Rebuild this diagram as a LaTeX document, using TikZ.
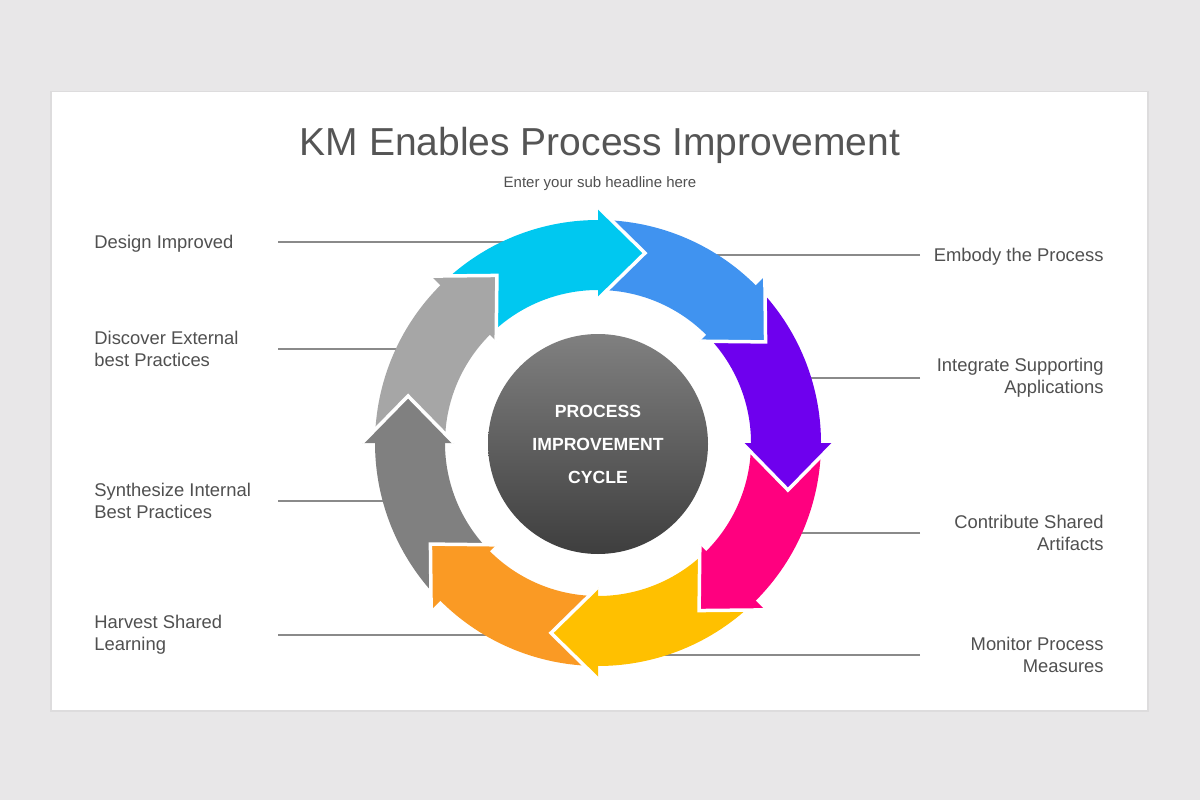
\documentclass[tikz,border=0pt]{standalone}
\usepackage{fontspec}
\setmainfont{Liberation Sans}

\definecolor{bgcol}{RGB}{232,231,232}
\definecolor{shadowcol}{RGB}{221,220,221}
\definecolor{titlegray}{RGB}{85,85,85}
\definecolor{textgray}{RGB}{80,80,80}
\definecolor{linegray}{RGB}{138,138,138}
\definecolor{cyanA}{RGB}{0,200,240}
\definecolor{blueA}{RGB}{64,147,240}
\definecolor{purpleA}{RGB}{110,0,238}
\definecolor{pinkA}{RGB}{255,0,127}
\definecolor{yellowA}{RGB}{255,192,0}
\definecolor{orangeA}{RGB}{250,154,36}
\definecolor{darkgrayA}{RGB}{128,128,128}
\definecolor{lightgrayA}{RGB}{166,166,166}
\definecolor{hubtop}{RGB}{128,128,128}
\definecolor{hubbottom}{RGB}{62,62,62}

\begin{document}
\begin{tikzpicture}[x=0.5pt,y=0.5pt]
\useasboundingbox (0,0) rectangle (1200,800);
\fill[bgcol] (0,0) rectangle (1200,800);
\fill[shadowcol] (50,88) rectangle (1149,709);
\fill[white] (52,90) rectangle (1147,708);

% headings
\node[anchor=base, text=titlegray, font=\fontsize{19.5}{22}\selectfont] (title) at (600,645) {KM Enables Process Improvement};
\node[anchor=base, text=textgray, font=\fontsize{7.5}{9}\selectfont] (subtitle) at (600,613) {Enter your sub headline here};

% labels
\begin{scope}[every node/.style={text=textgray, inner sep=0pt, font=\fontsize{9.2}{11}\selectfont}]
    \node[anchor=west, align=left] (design) at (94,556) {Design Improved};
    \node[anchor=west, align=left] (discover) at (94,451) {Discover External\\best Practices};
    \node[anchor=west, align=left] (synthesize) at (94,299) {Synthesize Internal\\Best Practices};
    \node[anchor=west, align=left] (harvest) at (94,165) {Harvest Shared\\Learning};

    \node[anchor=east, align=right] (embody) at (1104,543) {Embody the Process};
    \node[anchor=east, align=right] (integrate) at (1104,422) {Integrate Supporting\\Applications};
    \node[anchor=east, align=right] (contribute) at (1104,267) {Contribute Shared\\Artifacts};
    \node[anchor=east, align=right] (monitor) at (1104,145) {Monitor Process\\Measures};
\end{scope}

\coordinate (design_a) at (278,558);
\coordinate (design_b) at (515,558);
\coordinate (discover_a) at (278,451);
\coordinate (discover_b) at (410,451);
\coordinate (synthesize_a) at (278,299);
\coordinate (synthesize_b) at (400,299);
\coordinate (harvest_a) at (278,165);
\coordinate (harvest_b) at (500,165);
\coordinate (embody_a) at (920,545);
\coordinate (embody_b) at (700,545);
\coordinate (integrate_a) at (920,422);
\coordinate (integrate_b) at (790,422);
\coordinate (contribute_a) at (920,267);
\coordinate (contribute_b) at (790,267);
\coordinate (monitor_a) at (920,145);
\coordinate (monitor_b) at (650,145);

\begin{scope}[every edge/.style={draw=linegray, line width=0.75pt}]
    \path (design_a) edge (design_b);
    \path (discover_a) edge (discover_b);
    \path (synthesize_a) edge (synthesize_b);
    \path (harvest_a) edge (harvest_b);
    \path (embody_a) edge (embody_b);
    \path (integrate_a) edge (integrate_b);
    \path (contribute_a) edge (contribute_b);
    \path (monitor_a) edge (monitor_b);
\end{scope}

% ring of arrows, centre of the ring at (598,357)
\begin{scope}[shift={(598,357)}, headedge/.style={draw=white, line width=1.75pt, line join=miter}]
    % bodies
    \fill[cyanA] (133:223) arc[start angle=133, end angle=89, radius=223] -- (89:153) arc[start angle=89, end angle=133, radius=153] -- cycle;
    \fill[blueA] (88:223) arc[start angle=88, end angle=44, radius=223] -- (44:153) arc[start angle=44, end angle=88, radius=153] -- cycle;
    \fill[purpleA] (43:223) arc[start angle=43, end angle=-1, radius=223] -- (-1:153) arc[start angle=-1, end angle=43, radius=153] -- cycle;
    \fill[pinkA] (-2:223) arc[start angle=-2, end angle=-46, radius=223] -- (-46:153) arc[start angle=-46, end angle=-2, radius=153] -- cycle;
    \fill[yellowA] (-47:223) arc[start angle=-47, end angle=-91, radius=223] -- (-91:153) arc[start angle=-91, end angle=-47, radius=153] -- cycle;
    \fill[orangeA] (-92:223) arc[start angle=-92, end angle=-136, radius=223] -- (-136:153) arc[start angle=-136, end angle=-92, radius=153] -- cycle;
    \fill[darkgrayA] (223:223) arc[start angle=223, end angle=179, radius=223] -- (179:153) arc[start angle=179, end angle=223, radius=153] -- cycle;
    \fill[lightgrayA] (178:223) arc[start angle=178, end angle=134, radius=223] -- (134:153) arc[start angle=134, end angle=178, radius=153] -- cycle;

    % heads
    \fill[cyanA] (90:236) -- (76.1:195.7) -- (90:144) -- cycle;
    \draw[headedge] (90:236) -- (76.1:195.7) -- (90:144);
    \fill[blueA] (45:236) -- (31.1:195.7) -- (45:144) -- cycle;
    \draw[headedge] (45:236) -- (31.1:195.7) -- (45:144);
    \fill[purpleA] (0:236) -- (-13.9:195.7) -- (0:144) -- cycle;
    \draw[headedge] (0:236) -- (-13.9:195.7) -- (0:144);
    \fill[pinkA] (-45:236) -- (-58.9:195.7) -- (-45:144) -- cycle;
    \draw[headedge] (-45:236) -- (-58.9:195.7) -- (-45:144);
    \fill[yellowA] (-90:236) -- (-103.9:195.7) -- (-90:144) -- cycle;
    \draw[headedge] (-90:236) -- (-103.9:195.7) -- (-90:144);
    \fill[orangeA] (-135:236) -- (-148.9:195.7) -- (-135:144) -- cycle;
    \draw[headedge] (-135:236) -- (-148.9:195.7) -- (-135:144);
    \fill[darkgrayA] (180:236) -- (166.1:195.7) -- (180:144) -- cycle;
    \draw[headedge] (180:236) -- (166.1:195.7) -- (180:144);
    \fill[lightgrayA] (135:236) -- (121.1:195.7) -- (135:144) -- cycle;
    \draw[headedge] (135:236) -- (121.1:195.7) -- (135:144);
\end{scope}

% hub
\node[circle, top color=hubtop, bottom color=hubbottom, minimum size=110pt, inner sep=0pt,
      text=white, align=center, font=\bfseries\fontsize{8.8}{16.5}\selectfont] (cycle) at (598,356) {PROCESS\\IMPROVEMENT\\CYCLE};
\end{tikzpicture}
\end{document}
